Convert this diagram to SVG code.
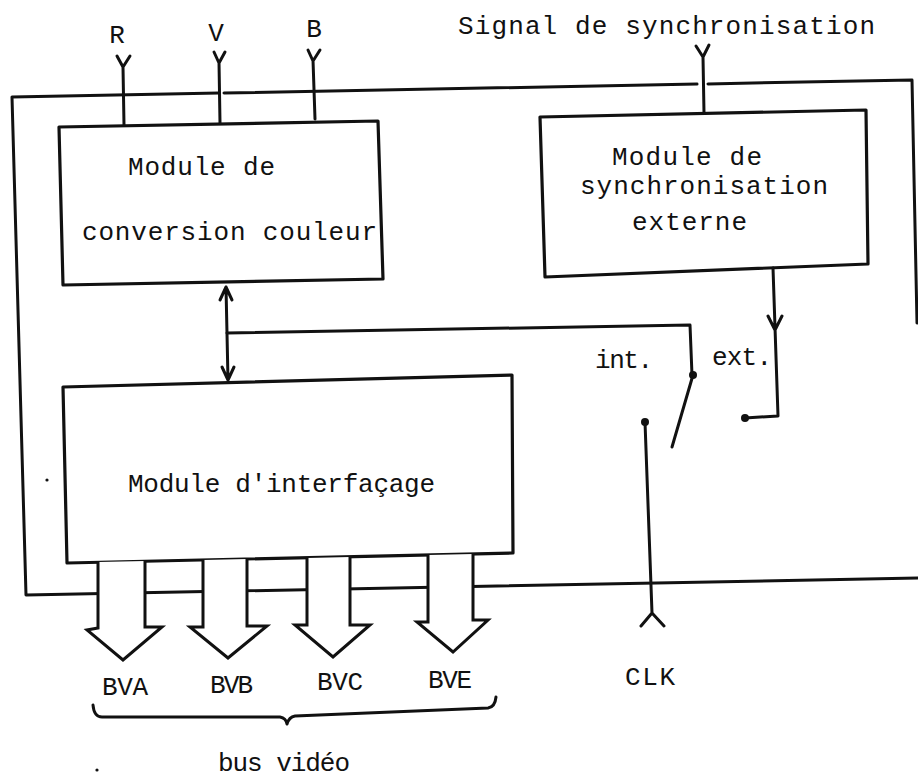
<svg xmlns="http://www.w3.org/2000/svg" width="918" height="780" viewBox="0 0 918 780">
<style>
  .ln { fill: none; stroke: #111; stroke-width: 3; stroke-linecap: round; stroke-linejoin: round; }
  .box { fill: #fff; stroke: #111; stroke-width: 3.2; stroke-linejoin: round; }
  .hollow { fill: #fff; stroke: #111; stroke-width: 3; stroke-linejoin: miter; }
  .dot { fill: #111; }
  .t { font-family: "Liberation Mono", "DejaVu Sans Mono", monospace; font-size: 26px; fill: #111; }
  .tm { text-anchor: middle; }
</style>
<rect width="918" height="780" fill="#fff"/>

<!-- outer frame -->
<g id="frame">
  <path class="ln" d="M219,93.1 L12,97 L26,595 L918,578"/>
  <path class="ln" d="M224,93 L697,84.1"/>
  <path class="ln" d="M708,83.9 L912,80 L917,323"/>
</g>

<!-- nodes -->
<g id="conversion">
  <path class="box" d="M59,127 L378,121 L383,279 L63,285 Z"/>
  <text class="t" x="128" y="175" textLength="147" lengthAdjust="spacing">Module de</text>
  <text class="t" x="82" y="240" textLength="295" lengthAdjust="spacing">conversion couleur</text>
</g>
<g id="sync">
  <path class="box" d="M540,117 L866,110 L868,264 L545,277 Z"/>
  <text class="t" x="612" y="165" textLength="150" lengthAdjust="spacing">Module de</text>
  <text class="t" x="580" y="194" textLength="248" lengthAdjust="spacing">synchronisation</text>
  <text class="t" x="632" y="230" textLength="115" lengthAdjust="spacing">externe</text>
</g>
<g id="interface">
  <path class="box" d="M63,387 L512,375 L513,553 L67,563 Z"/>
  <text class="t" x="128" y="492" textLength="307" lengthAdjust="spacing">Module d'interfaçage</text>
</g>

<!-- connectors -->
<g id="connectors">
  <!-- R V B inputs -->
  <path class="ln" d="M123,67 L124,125 M117,56 L123,67 L130,56"/>
  <path class="ln" d="M219,62 L220,123 M214,52 L219,63 L225,52"/>
  <path class="ln" d="M313,60 L315,119 M308,50 L313,61 L320,50"/>
  <!-- sync signal input -->
  <path class="ln" d="M703,57 L704,113 M696,46 L703,57 L709,45"/>
  <!-- bidirectional -->
  <path class="ln" d="M226,287 L228,380 M220,300 L226,287 L232,300 M222,367 L228,380 L234,367"/>
  <!-- int line to switch -->
  <path class="ln" d="M227,333 L690,325 L692,375"/>
  <circle class="dot" cx="693" cy="375" r="4"/>
  <path class="ln" d="M693,375 L672,447"/>
  <!-- ext line -->
  <path class="ln" d="M773,268 L778,416 L745,418 M768,316 L775,330 L782,316"/>
  <circle class="dot" cx="745" cy="418" r="4"/>
  <!-- CLK -->
  <circle class="dot" cx="645" cy="422" r="4"/>
  <path class="ln" d="M645,422 L652,613 M641,626 L652,613 L664,626"/>
  <!-- bus arrows -->
  <polyline class="hollow" points="98,562 98,628 87,630 123,660 162,627 145,627 145,561"/>
  <polyline class="hollow" points="203,560 203,627 190,627 228,658 267,626 247,626 247,559"/>
  <polyline class="hollow" points="307,558 307,625 295,625 333,657 370,625 350,625 350,557"/>
  <polyline class="hollow" points="428,555 428,622 417,622 453,652 488,620 473,620 473,554"/>
  <!-- brace -->
  <path class="ln" stroke-width="2.5" d="M93,705 Q94,717 102,717 L280,717 Q286,718 287,724 Q289,717 295,716 L488,708 Q495,707 496,697"/>
</g>

<!-- labels -->
<g id="labels">
  <text class="t tm" x="117" y="43">R</text>
  <text class="t tm" x="216" y="41">V</text>
  <text class="t tm" x="314" y="37">B</text>
  <text class="t" x="458" y="34" textLength="417" lengthAdjust="spacing">Signal de synchronisation</text>
  <text class="t" x="595" y="368" textLength="58" lengthAdjust="spacing">int.</text>
  <text class="t" x="712" y="365" textLength="60" lengthAdjust="spacing">ext.</text>
  <text class="t" x="102" y="695" textLength="46" lengthAdjust="spacing">BVA</text>
  <text class="t" x="210" y="693" textLength="43" lengthAdjust="spacing">BVB</text>
  <text class="t" x="317" y="690" textLength="46" lengthAdjust="spacing">BVC</text>
  <text class="t" x="428" y="688" textLength="44" lengthAdjust="spacing">BVE</text>
  <text class="t" x="625" y="685" textLength="50" lengthAdjust="spacing">CLK</text>
  <text class="t" x="218" y="771" font-size="25" textLength="132" lengthAdjust="spacing">bus vidéo</text>
</g>

<!-- scan specks -->
<circle class="dot" cx="47" cy="480" r="1.6"/>
<circle class="dot" cx="97" cy="770" r="1.6"/>
</svg>
